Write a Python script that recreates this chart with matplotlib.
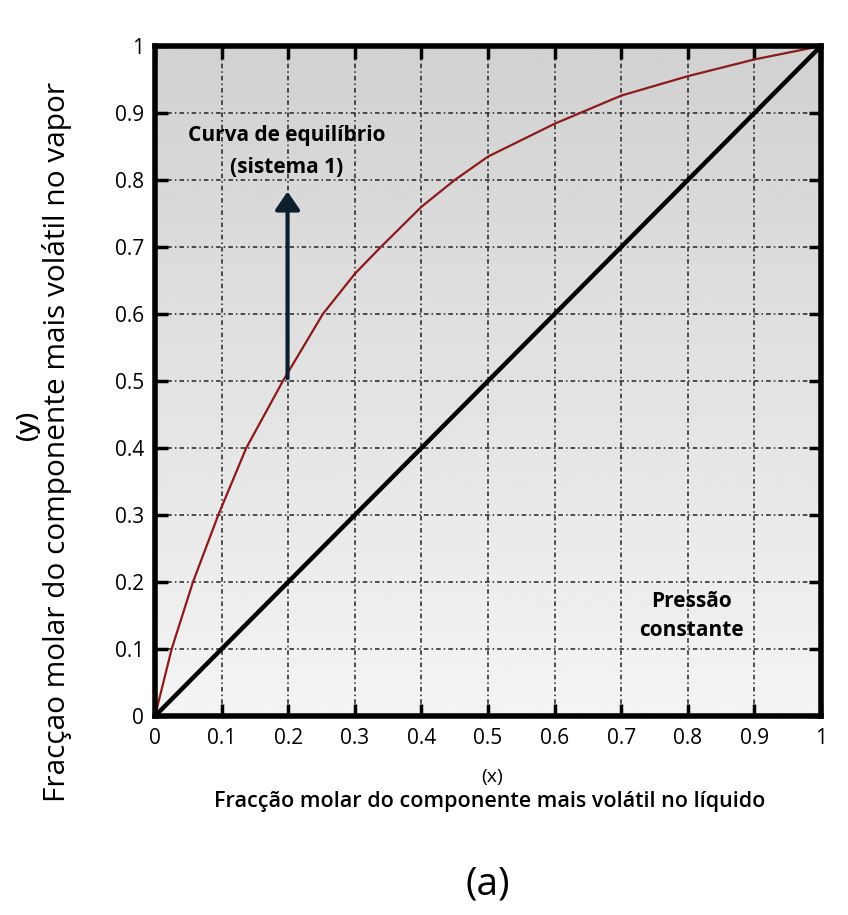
import matplotlib.pyplot as plt
import numpy as np

# liquid / vapour mole fractions of the more volatile component
x_liq = [0, 0.025, 0.057, 0.095, 0.137, 0.192, 0.252, 0.30, 0.339, 0.40,
         0.45, 0.50, 0.60, 0.70, 0.80, 0.90, 0.95, 1.0]
y_vap = [0, 0.10, 0.20, 0.30, 0.40, 0.50, 0.60, 0.66, 0.70, 0.76,
         0.80, 0.835, 0.884, 0.926, 0.955, 0.98, 0.99, 1.0]
diag = [0, 1]
ticks = [0, 0.1, 0.2, 0.3, 0.4, 0.5, 0.6, 0.7, 0.8, 0.9, 1]
tick_labels = ["0", "0.1", "0.2", "0.3", "0.4", "0.5", "0.6", "0.7", "0.8", "0.9", "1"]

plt.rcParams["font.family"] = ["Open Sans", "DejaVu Sans"]

fig = plt.figure(figsize=(8.48, 9.15), dpi=100)
ax = fig.add_axes([0.1828, 0.2175, 0.7854, 0.7322])

# grey shading, darker towards the top
grad = np.linspace(0.955, 0.82, 256).reshape(-1, 1)
ax.imshow(grad, cmap="gray", vmin=0, vmax=1, extent=[0, 1, 0, 1],
          origin="lower", aspect="auto", zorder=0)

ax.plot(diag, diag, color="black", lw=3.2, zorder=3)
ax.plot(x_liq, y_vap, color="#8b1a1a", lw=1.6, zorder=3,
        solid_joinstyle="round")

ax.set_xlim(0, 1)
ax.set_ylim(0, 1)
ax.set_xticks(ticks)
ax.set_yticks(ticks)
ax.set_xticklabels(tick_labels, fontsize=15)
ax.set_yticklabels(tick_labels, fontsize=15)
ax.tick_params(direction="in", length=9, width=2.5, top=True, right=True)
ax.tick_params(axis="x", pad=9)
ax.tick_params(axis="y", pad=8)
ax.grid(True, color="#222222", lw=1.1, linestyle=(0, (3, 2, 1, 2)), zorder=1)
for s in ax.spines.values():
    s.set_linewidth(4)
    s.set_zorder(5)

ax.annotate("", xy=(0.199, 0.787), xytext=(0.199, 0.5),
            arrowprops=dict(arrowstyle="-|>,head_width=0.75,head_length=1.1",
                            color="#0d1f2d", lw=3, joinstyle="round"), zorder=4)

ax.text(0.198, 0.867, "Curva de equilíbrio", ha="center", va="center",
        fontsize=15, fontweight="bold")
ax.text(0.198, 0.819, "(sistema 1)", ha="center", va="center",
        fontsize=15, fontweight="bold")
ax.text(0.806, 0.171, "Pressão", ha="center", va="center",
        fontsize=15, fontweight="bold")
ax.text(0.806, 0.128, "constante", ha="center", va="center",
        fontsize=15, fontweight="bold")

fig.text(0.580, 0.151, "(x)", ha="center", va="center", fontsize=14)
fig.text(0.578, 0.1235, "Fracção molar do componente mais volátil no líquido",
         ha="center", va="center", fontsize=15.5, fontweight="semibold")
fig.text(0.033, 0.535, "(y)", ha="center", va="center", rotation=90,
         fontsize=18, fontweight="semibold")
fig.text(0.067, 0.517, "Fracçao molar do componente mais volátil no vapor",
         ha="center", va="center", rotation=90, fontsize=21.5)
fig.text(0.575, 0.033, "(a)", ha="center", va="center", fontsize=28)

fig.savefig("out.png", dpi=100, facecolor="white")
